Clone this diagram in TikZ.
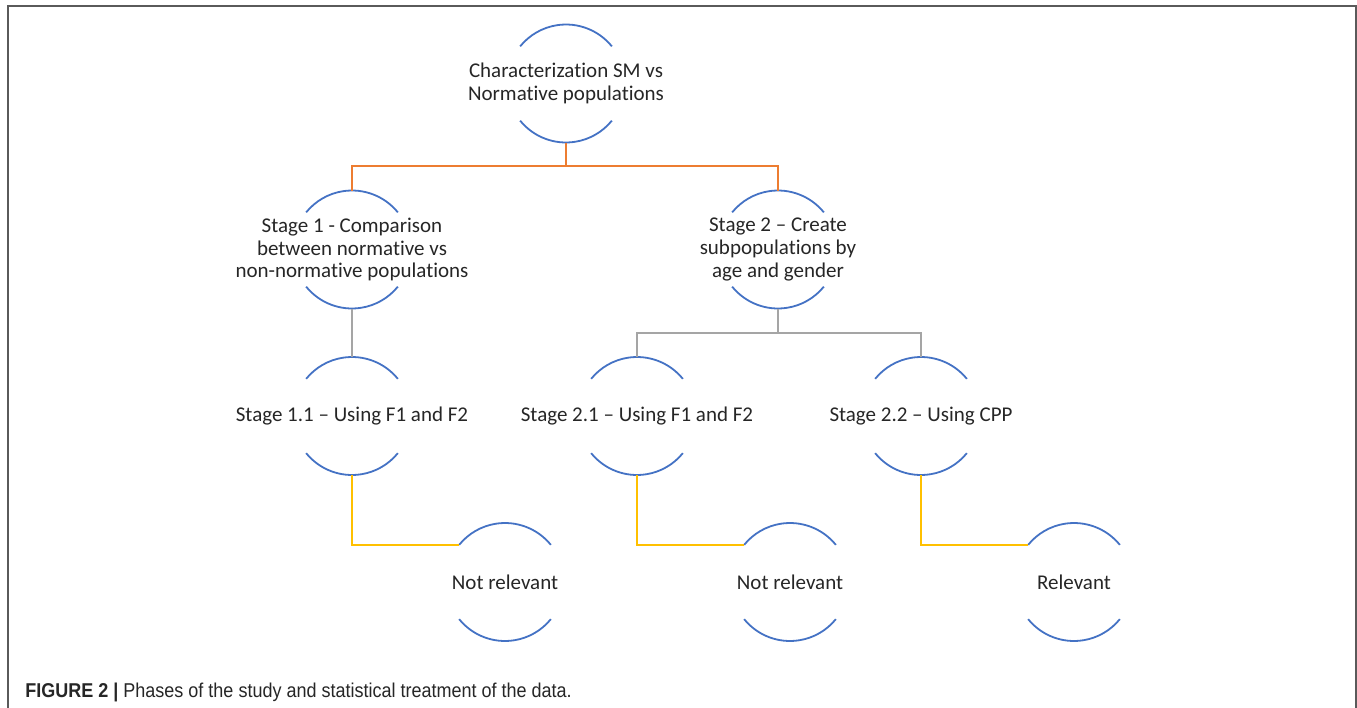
\documentclass[tikz,border=0pt]{standalone}
\usepackage{fontspec}
\setmainfont[Ligatures=NoCommon]{Carlito}
\newfontfamily\capfont[FakeStretch=0.9]{Liberation Sans}
\definecolor{ringblue}{HTML}{4472C4}
\definecolor{lnorange}{HTML}{ED7D31}
\definecolor{lngray}{HTML}{A5A5A5}
\definecolor{lnyellow}{HTML}{FFC000}
\definecolor{framegray}{HTML}{5A5A5A}
\tikzset{
  ring/.style={circle, minimum size=59pt, inner sep=0pt, outer sep=0pt},
  arcline/.style={ringblue, line width=0.9pt},
  txt/.style={align=center, font=\fontsize{10.5}{11.4}\selectfont, inner sep=0pt, text=black!85},
  orangeline/.style={lnorange, line width=0.9pt},
  grayline/.style={lngray, line width=0.9pt},
  yellowline/.style={lnyellow, line width=1pt},
}
\newcommand{\ringarcs}[1]{%
  \draw[arcline] (#1.39) arc[start angle=39, end angle=141, radius=29.5pt];
  \draw[arcline] (#1.-141) arc[start angle=-141, end angle=-39, radius=29.5pt];
}
\begin{document}
\begin{tikzpicture}[x=0.5pt, y=-0.5pt]
\useasboundingbox (0,0) rectangle (1357,708);
\draw[framegray, line width=1pt] (8,708) -- (8,6) -- (1356,6) -- (1356,708);

% rings
\node[ring] (top) at (566,83.5) {};
\node[ring] (s1) at (352,249.5) {};
\node[ring] (s2) at (778,249.5) {};
\node[ring] (s11) at (352,416) {};
\node[ring] (s21) at (637,416) {};
\node[ring] (s22) at (921,416) {};
\node[ring] (n1) at (505,582) {};
\node[ring] (n2) at (790,582) {};
\node[ring] (n3) at (1074,582) {};
\foreach \n in {top,s1,s2,s11,s21,s22,n1,n2,n3} {\ringarcs{\n}}

% texts
\node[txt] (ttop) at (top) {Characterization SM vs\\Normative populations};
\node[txt] (ts1) at (s1) {Stage 1 - Comparison\\between normative vs\\non-normative populations};
\node[txt] (ts2) at (s2) {Stage 2 -- Create\\subpopulations by\\age and gender};
\node[txt] (ts11) at (s11) {Stage 1.1 -- Using F1 and F2};
\node[txt] (ts21) at (s21) {Stage 2.1 -- Using F1 and F2};
\node[txt] (ts22) at (s22) {Stage 2.2 -- Using CPP};
\node[txt] (tn1) at (n1) {Not relevant};
\node[txt] (tn2) at (n2) {Not relevant};
\node[txt] (tn3) at (n3) {Relevant};

% connectors
\coordinate (j1) at (566,166);
\coordinate (j2) at (778,333);
\draw[orangeline] (top.south) -- (j1);
\draw[orangeline] (s1.north) |- (j1) -| (s2.north);
\draw[grayline] (s1.south) -- (s11.north);
\draw[grayline] (s2.south) -- (j2);
\draw[grayline] (s21.north) |- (j2) -| (s22.north);
\draw[yellowline] (s11.south) |- (n1.141);
\draw[yellowline] (s21.south) |- (n2.141);
\draw[yellowline] (s22.south) |- (n3.141);

% caption
\node[anchor=base west, inner sep=0pt, font=\capfont\fontsize{10}{12}\selectfont, text=black!85] (cap) at (25,697.5) {\textbf{FIGURE 2 |} Phases of the study and statistical treatment of the data.};
\end{tikzpicture}
\end{document}
